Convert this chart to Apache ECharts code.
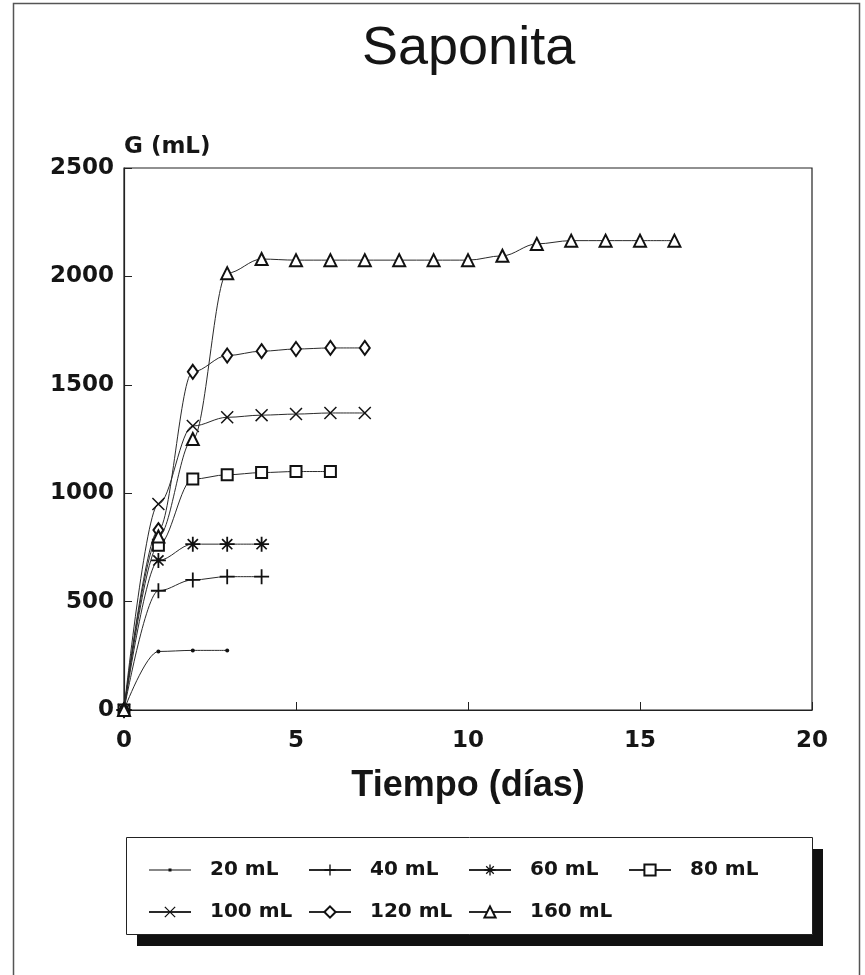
<!DOCTYPE html>
<html>
<head>
<meta charset="utf-8">
<title>Saponita</title>
<script src="https://cdn.jsdelivr.net/npm/echarts@6/dist/echarts.min.js"></script>
<style>
  html, body { margin: 0; padding: 0; background: #fff; }
  #chart { width: 865px; height: 975px; }
</style>
</head>
<body>
<div id="chart"></div>
<script>
// dias de medicion (cada serie usa los primeros puntos)
const days = [0, 1, 2, 3, 4, 5, 6, 7, 8, 9, 10, 11, 12, 13, 14, 15, 16]
const xTicks = [0, 5, 10, 15, 20]
const yTicks = [0, 500, 1000, 1500, 2000, 2500]

// G (mL) por volumen de carga
const g20 = [0, 270, 275, 275]
const g40 = [0, 550, 600, 615, 615]
const g60 = [0, 690, 765, 765, 765]
const g80 = [0, 760, 1065, 1085, 1095, 1100, 1100]
const g100 = [0, 950, 1310, 1350, 1360, 1365, 1370, 1370]
const g120 = [0, 830, 1560, 1635, 1655, 1665, 1670, 1670]
const g160 = [0, 800, 1250, 2015, 2080, 2075, 2075, 2075, 2075, 2075, 2075, 2095, 2150, 2165, 2165, 2165, 2165]

const names = ['20 mL', '40 mL', '60 mL', '80 mL', '100 mL', '120 mL', '160 mL']
const values = [g20, g40, g60, g80, g100, g120, g160]

const plus = 'path://M4.4,0h1.2v10h-1.2zM0,4.4h10v1.2h-10z'
const cross = 'path://M0,0.8L0.8,0L10,9.2L9.2,10ZM9.2,0L10,0.8L0.8,10L0,9.2Z'
const star = 'path://M4.4,0h1.2v10h-1.2zM0,4.4h10v1.2h-10zM1.2,2L2,1.2L8.8,8L8,8.8ZM8,1.2L8.8,2L2,8.8L1.2,8Z'
// icono de leyenda para el punto pequeño: linea + punto
const dotIcon = 'path://M0,6.5h42v1h-42zM19.5,5.5h3v3h-3z'

const symbols = [
  { symbol: 'circle', size: 4, empty: false },
  { symbol: plus, size: 15, empty: false },
  { symbol: star, size: 15, empty: false },
  { symbol: 'emptyRect', size: 11, empty: true },
  { symbol: cross, size: 13, empty: false },
  { symbol: 'emptyDiamond', size: [10, 14], empty: true },
  { symbol: 'emptyTriangle', size: 12, empty: true }
]

const font = 'DejaVu Sans'

const myChart = echarts.init(document.getElementById('chart'), null, { renderer: 'canvas' })

const series = names.map((name, i) => ({
  name: name,
  type: 'line',
  smooth: 0.35,
  smoothMonotone: 'x',
  symbol: symbols[i].symbol,
  symbolSize: symbols[i].size,
  showAllSymbol: true,
  lineStyle: { color: '#2a2a2a', width: 1 },
  itemStyle: {
    color: '#111',
    borderColor: '#111',
    borderWidth: symbols[i].empty ? 1.3 : 0
  },
  z: 2 + i,
  data: values[i].map((v, k) => [days[k], v])
}))

// caja de la leyenda con sombra negra
const legendBox = { x: 126, y: 837, w: 686, h: 97 }

const option = {
  backgroundColor: '#fff',
  animation: false,
  title: {
    text: 'Saponita',
    left: 362,
    top: 22,
    padding: 0,
    textStyle: {
      fontFamily: 'Liberation Sans',
      fontWeight: 'normal',
      fontSize: 54,
      color: '#151515'
    }
  },
  grid: {
    left: 124,
    top: 168,
    right: 53,
    bottom: 265,
    show: true,
    borderColor: '#222',
    borderWidth: 1.2,
    backgroundColor: 'transparent'
  },
  legend: {
    data: names.map((n, i) => (i === 0 ? { name: n, icon: dotIcon } : n)),
    left: legendBox.x,
    top: legendBox.y,
    width: 650,
    padding: [12, 16, 4, 22],
    itemGap: 0,
    itemWidth: 42,
    itemHeight: 14,
    selectedMode: false,
    z: 10,
    textStyle: {
      fontFamily: font,
      fontWeight: 'bold',
      fontSize: 20,
      color: '#151515',
      width: 98,
      lineHeight: 42,
      padding: [0, 0, 0, 14]
    }
  },
  xAxis: {
    type: 'value',
    min: 0,
    max: 20,
    interval: 5,
    name: 'Tiempo (días)',
    nameLocation: 'middle',
    nameGap: 58,
    nameTextStyle: {
      fontFamily: 'Liberation Sans',
      fontWeight: 'bold',
      fontSize: 36,
      color: '#151515'
    },
    axisLine: { show: true, lineStyle: { color: '#222', width: 1.2 } },
    axisTick: { show: true, inside: true, length: 8, lineStyle: { color: '#222' } },
    splitLine: { show: false },
    axisLabel: {
      margin: 20,
      fontFamily: font,
      fontWeight: 'bold',
      fontSize: 23,
      color: '#151515',
      formatter: (v) => (xTicks.includes(v) ? String(v) : '')
    }
  },
  yAxis: {
    type: 'value',
    min: 0,
    max: 2500,
    interval: 500,
    name: 'G (mL)',
    nameLocation: 'end',
    nameGap: 9,
    nameTextStyle: {
      align: 'left',
      fontFamily: font,
      fontWeight: 'bold',
      fontSize: 23,
      color: '#151515'
    },
    axisLine: { show: true, lineStyle: { color: '#222', width: 1.2 } },
    axisTick: { show: true, inside: true, length: 8, lineStyle: { color: '#222' } },
    splitLine: { show: false },
    axisLabel: {
      margin: 10,
      fontFamily: font,
      fontWeight: 'bold',
      fontSize: 23,
      color: '#151515',
      formatter: (v) => (yTicks.includes(v) ? String(v) : '')
    }
  },
  graphic: [
    {
      type: 'rect',
      silent: true,
      z: 0,
      shape: { x: 13.5, y: 3.5, width: 846, height: 1000 },
      style: { fill: 'none', stroke: '#555', lineWidth: 1.5 }
    },
    {
      type: 'rect',
      silent: true,
      z: 1,
      shape: { x: legendBox.x + 11, y: legendBox.y + 12, width: legendBox.w, height: legendBox.h },
      style: { fill: '#111' }
    },
    {
      type: 'rect',
      silent: true,
      z: 2,
      shape: { x: legendBox.x + 0.5, y: legendBox.y + 0.5, width: legendBox.w, height: legendBox.h },
      style: { fill: '#fff', stroke: '#222', lineWidth: 1 }
    }
  ],
  series: series
}

option && myChart.setOption(option)
</script>
</body>
</html>
